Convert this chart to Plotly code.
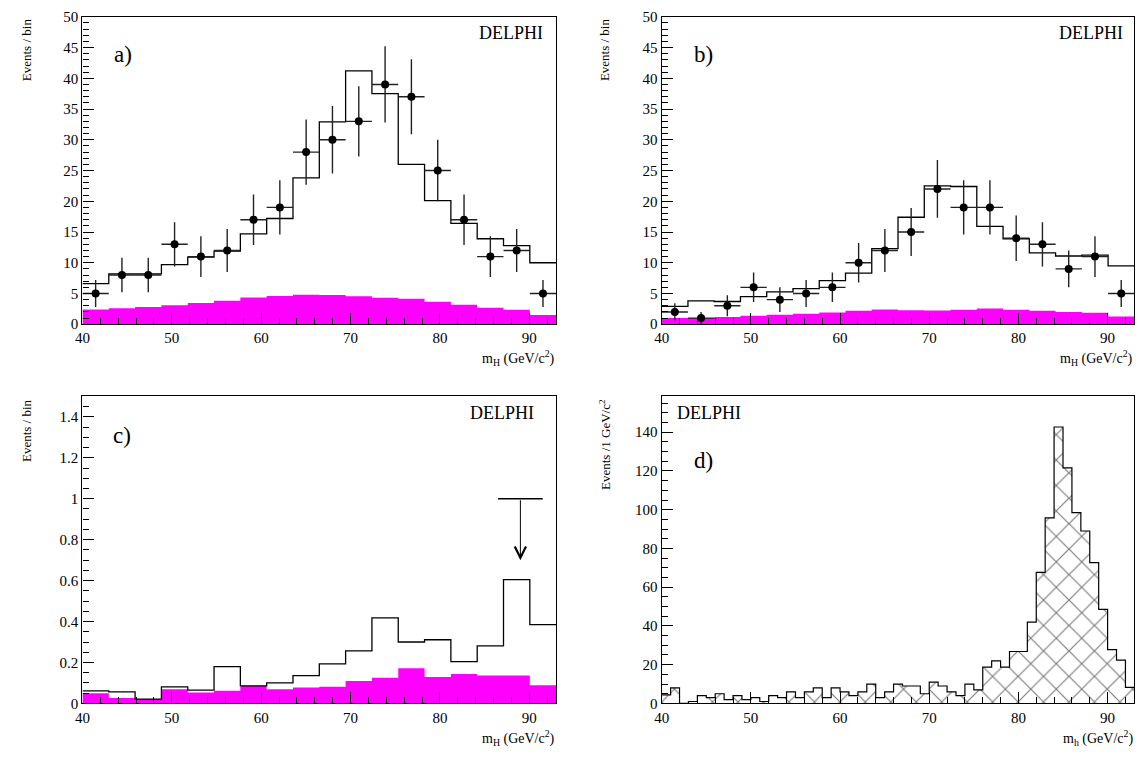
import numpy as np
import plotly.graph_objects as go

W, H = 1142, 764
FONT = "Liberation Serif"

# ---------------- data ----------------
edges18 = np.linspace(40, 93, 19)          # 18 bins used in a), b), c)
centers18 = 0.5 * (edges18[:-1] + edges18[1:])
half18 = 0.5 * (edges18[1] - edges18[0])

# panel a
a_data = [5, 8, 8, 13, 11, 12, 17, 19, 28, 30, 33, 39, 37, 25, 17, 11, 12, 5]
a_err = [2.2, 2.8, 2.8, 3.6, 3.3, 3.5, 4.1, 4.4, 5.3, 5.5, 5.7, 6.2, 6.1, 5.0, 4.1, 3.3, 3.5, 2.2]
a_mc = [6.6, 8.2, 8.2, 9.7, 10.9, 11.9, 14.7, 17.2, 23.8, 32.9, 41.2, 37.5, 26.0, 20.1, 16.4, 13.9, 12.8, 10.0]
a_bkg = [2.4, 2.6, 2.8, 3.1, 3.45, 3.8, 4.35, 4.6, 4.8, 4.75, 4.55, 4.3, 4.15, 3.65, 3.15, 2.7, 2.35, 1.5]

# panel b
b_data = [2, 1, 3, 6, 4, 5, 6, 10, 12, 15, 22, 19, 19, 14, 13, 9, 11, 5]
b_err = [1.4, 1.0, 1.7, 2.4, 2.0, 2.2, 2.4, 3.2, 3.5, 3.9, 4.7, 4.4, 4.4, 3.7, 3.6, 3.0, 3.3, 2.2]
b_mc = [2.9, 3.8, 3.7, 4.5, 5.25, 5.8, 7.1, 8.3, 12.3, 17.4, 22.5, 22.4, 15.9, 13.9, 11.6, 11.1, 11.25, 9.5]
b_bkg = [1.0, 1.0, 1.17, 1.38, 1.54, 1.7, 1.9, 2.18, 2.39, 2.28, 2.23, 2.34, 2.55, 2.34, 2.18, 2.0, 1.86, 1.27]

# panel c
c_mc = [0.061, 0.056, 0.021, 0.081, 0.065, 0.180, 0.086, 0.100, 0.136, 0.193, 0.257, 0.418, 0.300, 0.311, 0.204, 0.281, 0.605, 0.385]
c_bkg = [0.050, 0.026, 0.021, 0.069, 0.053, 0.062, 0.086, 0.069, 0.078, 0.081, 0.110, 0.126, 0.172, 0.129, 0.144, 0.137, 0.137, 0.089]
c_limit_x = 89.0
c_limit_half = 2.5
c_limit_y = 1.0
c_limit_tip = 0.70

# panel d (1 GeV/c^2 bins)
edges53 = np.linspace(40, 93, 54)
d_vals = [4.4, 8, 0, 1, 4, 3, 5, 2, 4, 2,
          3, 1, 4, 3, 6, 3, 6, 8, 3, 8,
          6, 4, 6, 10, 3, 6, 10, 9, 9, 5,
          11, 9, 6, 4, 10, 7, 18.7, 22, 18.7, 26.8,
          26.8, 42, 67.6, 95.8, 142.7, 121.6, 98.5, 89, 72.7, 48.6,
          27.8, 22.4, 8.3]

MAGENTA = "#ff00ff"


def step_xy(edges, vals):
    return list(edges), list(vals) + [vals[-1]]


fig = go.Figure()

# ---------- panel a ----------
x, y = step_xy(edges18, a_bkg)
fig.add_trace(go.Scatter(x=x, y=y, mode="lines", line=dict(shape="hv", width=0, color=MAGENTA),
                         fill="tozeroy", fillcolor=MAGENTA, xaxis="x", yaxis="y", hoverinfo="skip"))
x, y = step_xy(edges18, a_mc)
fig.add_trace(go.Scatter(x=x, y=y, mode="lines", line=dict(shape="hv", width=1.3, color="black"),
                         xaxis="x", yaxis="y"))
fig.add_trace(go.Scatter(x=centers18, y=a_data, mode="markers",
                         marker=dict(color="black", size=8),
                         error_y=dict(type="data", array=a_err, width=0, thickness=1.4, color="#222"),
                         error_x=dict(type="constant", value=half18, width=0, thickness=1.4, color="#222"),
                         xaxis="x", yaxis="y"))

# ---------- panel b ----------
x, y = step_xy(edges18, b_bkg)
fig.add_trace(go.Scatter(x=x, y=y, mode="lines", line=dict(shape="hv", width=0, color=MAGENTA),
                         fill="tozeroy", fillcolor=MAGENTA, xaxis="x2", yaxis="y2", hoverinfo="skip"))
x, y = step_xy(edges18, b_mc)
fig.add_trace(go.Scatter(x=x, y=y, mode="lines", line=dict(shape="hv", width=1.3, color="black"),
                         xaxis="x2", yaxis="y2"))
fig.add_trace(go.Scatter(x=centers18, y=b_data, mode="markers",
                         marker=dict(color="black", size=8),
                         error_y=dict(type="data", array=b_err, width=0, thickness=1.4, color="#222"),
                         error_x=dict(type="constant", value=half18, width=0, thickness=1.4, color="#222"),
                         xaxis="x2", yaxis="y2"))

# ---------- panel c ----------
x, y = step_xy(edges18, c_bkg)
fig.add_trace(go.Scatter(x=x, y=y, mode="lines", line=dict(shape="hv", width=0, color=MAGENTA),
                         fill="tozeroy", fillcolor=MAGENTA, xaxis="x3", yaxis="y3", hoverinfo="skip"))
x, y = step_xy(edges18, c_mc)
fig.add_trace(go.Scatter(x=x, y=y, mode="lines", line=dict(shape="hv", width=1.3, color="black"),
                         xaxis="x3", yaxis="y3"))
fig.add_trace(go.Scatter(x=[c_limit_x - c_limit_half, c_limit_x + c_limit_half], y=[c_limit_y, c_limit_y],
                         mode="lines", line=dict(color="black", width=1.5), xaxis="x3", yaxis="y3"))

# ---------- panel d ----------
x, y = step_xy(edges53, d_vals)
fig.add_trace(go.Scatter(x=x, y=y, mode="lines", line=dict(shape="hv", width=1.2, color="black"),
                         fill="tozeroy", fillcolor="white",
                         fillpattern=dict(shape="x", fgcolor="black", bgcolor="white", size=18, solidity=0.13),
                         xaxis="x4", yaxis="y4"))


# ---------------- layout ----------------
def xd(l, r):
    return [l / W, r / W]


def yd(t, b):
    return [1 - b / H, 1 - t / H]


tickfont = dict(family=FONT, size=15, color="black")


def xaxis(domain, anchor):
    return dict(domain=domain, anchor=anchor, range=[40, 93], tick0=40, dtick=10,
                ticks="inside", ticklen=11, tickwidth=1, tickcolor="black",
                minor=dict(dtick=2, tick0=40, ticks="inside", ticklen=6, tickwidth=1, tickcolor="black"),
                showline=True, linecolor="black", linewidth=1.2, mirror=True,
                showgrid=False, zeroline=False, tickfont=tickfont)


def yaxis(domain, anchor, rng, dtick, mdtick):
    return dict(domain=domain, anchor=anchor, range=rng, tick0=0, dtick=dtick,
                ticks="inside", ticklen=11, tickwidth=1, tickcolor="black",
                minor=dict(dtick=mdtick, tick0=0, ticks="inside", ticklen=6, tickwidth=1, tickcolor="black"),
                showline=True, linecolor="black", linewidth=1.2, mirror=True,
                showgrid=False, zeroline=False, tickfont=tickfont)


xa_l, xa_r = xd(75, 552), xd(658.3, 1134.3)
ya_t, ya_b = yd(9, 323), yd(396.7, 710.3)

annotations = []


def ann(text, px, py, size, xanchor="center", yanchor="middle", angle=0):
    annotations.append(dict(text=text, x=px / W, y=1 - py / H, xref="paper", yref="paper",
                            xanchor=xanchor, yanchor=yanchor, showarrow=False, textangle=angle,
                            font=dict(family=FONT, size=size, color="black")))


# panel labels
ann("a)", 116, 48, 23)
ann("b)", 700, 48, 23)
ann("c)", 115, 437, 23)
ann("d)", 700, 462, 23)
# DELPHI
ann("DELPHI", 541, 26, 18, xanchor="right")
ann("DELPHI", 1125, 26, 18, xanchor="right")
ann("DELPHI", 532, 414, 18, xanchor="right")
ann("DELPHI", 672, 414, 18, xanchor="left")
# axis titles
mH = "m<sub>H</sub> (GeV/c<sup>2</sup>)"
ann(mH, 553, 357, 14, xanchor="right")
ann(mH, 1135, 357, 14, xanchor="right")
ann(mH, 553, 746, 14, xanchor="right")
ann("m<sub>h</sub> (GeV/c<sup>2</sup>)", 1135, 746, 14, xanchor="right")
ann("Events / bin", 18, 8, 13, yanchor="top", angle=-90)
ann("Events / bin", 601, 8, 13, yanchor="top", angle=-90)
ann("Events / bin", 18, 397, 13, yanchor="top", angle=-90)
ann("Events /1 GeV/c<sup>2</sup>", 601, 397, 13, yanchor="top", angle=-90)

# upper-limit arrow in c)
annotations.append(dict(x=c_limit_x, y=c_limit_tip, ax=c_limit_x, ay=c_limit_y,
                        xref="x3", yref="y3", axref="x3", ayref="y3",
                        showarrow=True, arrowhead=5, arrowsize=2.2, arrowwidth=1, arrowcolor="black",
                        text=""))

fig.update_layout(
    width=W, height=H, margin=dict(l=0, r=0, t=0, b=0),
    paper_bgcolor="white", plot_bgcolor="white", showlegend=False,
    xaxis=xaxis(xa_l, "y"), yaxis=yaxis(ya_t, "x", [0, 50], 5, 1),
    xaxis2=xaxis(xa_r, "y2"), yaxis2=yaxis(ya_t, "x2", [0, 50], 5, 1),
    xaxis3=xaxis(xa_l, "y3"), yaxis3=yaxis(ya_b, "x3", [0, 1.5], 0.2, 0.05),
    xaxis4=xaxis(xa_r, "y4"), yaxis4=yaxis(ya_b, "x4", [0, 158.5], 20, 5),
    annotations=annotations,
    font=dict(family=FONT, color="black"),
)

fig.write_html("out.html")
